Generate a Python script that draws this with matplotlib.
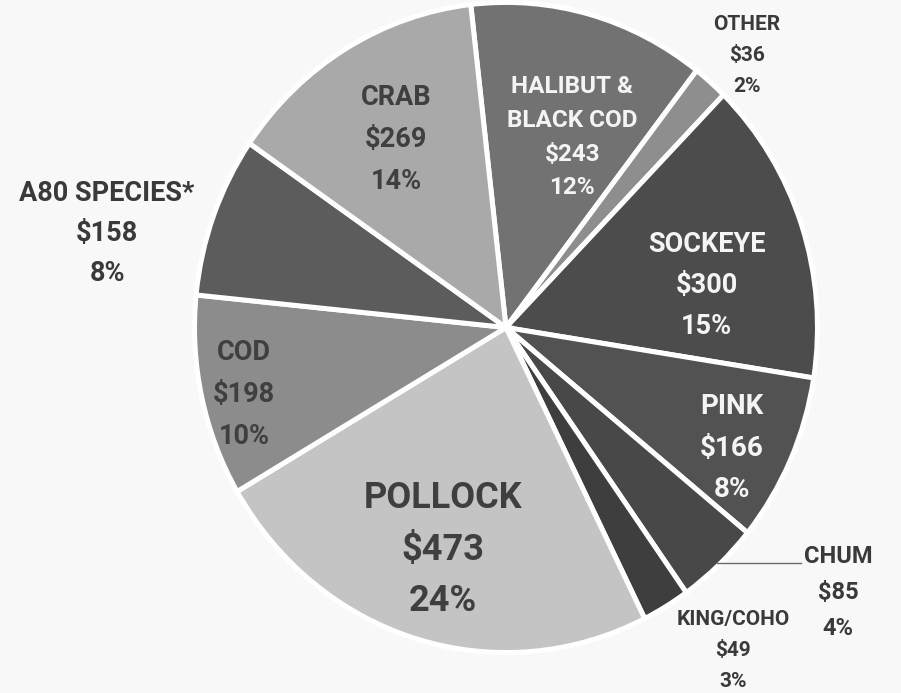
import numpy as np
import matplotlib.pyplot as plt

plt.rcParams['font.family'] = ['Roboto', 'DejaVu Sans']

# slices clockwise from the top
names = ['HALIBUT &\nBLACK COD', 'OTHER', 'SOCKEYE', 'PINK', 'CHUM',
         'KING/COHO', 'POLLOCK', 'COD', 'A80 SPECIES*', 'CRAB']
values = [243, 36, 300, 166, 85, 49, 473, 198, 158, 269]
pcts = [12, 2, 15, 8, 4, 3, 24, 10, 8, 14]

colors = ['#727272', '#8e8e8e', '#4c4c4c', '#525252', '#484848',
          '#3e3e3e', '#c4c4c4', '#8c8c8c', '#5c5c5c', '#a9a9a9']

# label layout (data coords, pie radius = 1)
label_xy = [(0.214, 0.590), (0.780, 0.843), (0.650, 0.131), (0.731, -0.374),
            (1.074, -0.822), (0.735, -1.001), (-0.204, -0.689), (-0.848, -0.208),
            (-1.291, 0.291), (-0.356, 0.583)]
label_size = [17.5, 15, 19.5, 20, 17, 15, 26, 19.5, 19.5, 19.5]
label_ls = [1.6, 1.8, 1.66, 1.68, 1.72, 1.8, 1.55, 1.7, 1.62, 1.72]
label_color = ['#f4f4f4', '#3a3a3a', '#f4f4f4', '#f4f4f4', '#3a3a3a',
               '#3a3a3a', '#3f3f3f', '#3f3f3f', '#3a3a3a', '#3f3f3f']

fig = plt.figure(figsize=(9.01, 6.93), dpi=100, facecolor='#f8f8f8')
ax = fig.add_axes([197 / 901, 43 / 693, 618 / 901, 645 / 693])
ax.set_facecolor('#f8f8f8')

wedges, _ = ax.pie(values, colors=colors, startangle=96.5, counterclock=False,
                   radius=1.008,
                   wedgeprops=dict(edgecolor='white', linewidth=3.6))
ax.set_aspect('auto')
ax.set_xlim(-1, 1)
ax.set_ylim(-1, 1)
ax.axis('off')

for i, name in enumerate(names):
    x, y = label_xy[i]
    ax.text(x, y, '{}\n${}\n{}%'.format(name, values[i], pcts[i]),
            ha='center', va='center', fontsize=label_size[i], fontweight='bold',
            color=label_color[i], linespacing=label_ls[i], clip_on=False)

# leader line for CHUM
w = wedges[4]
mid = np.deg2rad((w.theta1 + w.theta2) / 2)
ax.plot([np.cos(mid), 0.955], [np.sin(mid), np.sin(mid)], color='#6a6a6a',
        linewidth=1, clip_on=False)

fig.savefig('out.png', dpi=100, facecolor=fig.get_facecolor())
